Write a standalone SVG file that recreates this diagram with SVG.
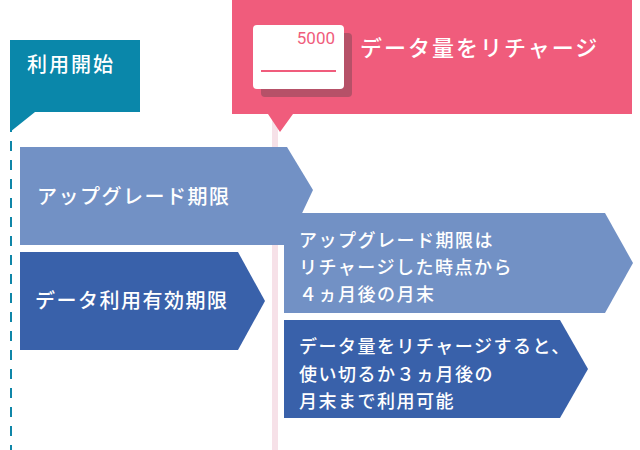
<svg xmlns="http://www.w3.org/2000/svg" width="640" height="450" viewBox="0 0 640 450">
<style>
text{font-family:"Noto Sans CJK JP","Noto Sans",sans-serif;fill:#fff;font-weight:500}
.big{font-size:20px;letter-spacing:1.5px}
.sm{font-size:18px;letter-spacing:1.5px}
.light{fill:#7291c5}
.dark{fill:#3961aa}
</style>
<g id="timeline-start">
<line x1="11" y1="122" x2="11" y2="450" stroke="#0f86a8" stroke-width="2" stroke-dasharray="10,9"/>
<path d="M10 40H140V112H35L10 132Z" fill="#0a87aa"/>
<text x="27" y="72" style="font-size:20px;letter-spacing:2px">利用開始</text>
</g>
<g id="timeline-recharge">
<rect x="272" y="120" width="6" height="330" fill="#f6e1e8"/>
<path d="M232 0H632V114H293L280 132L268 114H232Z" fill="#f05c7c"/>
<rect x="261" y="33" width="91" height="64" rx="4" fill="#b65168"/>
<rect x="253" y="25" width="91" height="64" rx="4" fill="#fff"/>
<line x1="261" y1="71" x2="336" y2="71" stroke="#f05c7c" stroke-width="2"/>
<text x="335" y="44" text-anchor="end" style="fill:#f05c7c;font-family:Roboto,sans-serif;font-weight:400;font-size:17px">5000</text>
<text x="360" y="56" style="font-size:22px;letter-spacing:2px">データ量をリチャージ</text>
</g>
<g id="upgrade">
<path d="M20 147H287L313 190L287 245H20Z" class="light"/>
<text x="37" y="204" class="big">アップグレード期限</text>
</g>
<g id="data-valid">
<path d="M20 252H238L265 301L238 350H20Z" class="dark"/>
<text x="35" y="308" class="big">データ利用有効期限</text>
</g>
<g id="note-upgrade">
<path d="M284 213H605L633 263L605 313H284Z" class="light" stroke="#fff" stroke-width="0"/>
<text x="299" y="247" class="sm">アップグレード期限は</text>
<text x="299" y="274" class="sm">リチャージした時点から</text>
<text x="299" y="301" class="sm">４ヵ月後の月末</text>
</g>
<g id="note-data">
<path d="M284 320H560L588 369L560 418H284Z" class="dark"/>
<text x="299" y="353" class="sm">データ量をリチャージすると、</text>
<text x="299" y="381" class="sm">使い切るか３ヵ月後の</text>
<text x="299" y="408" class="sm">月末まで利用可能</text>
</g>
<g id="connectors"></g>
</svg>
